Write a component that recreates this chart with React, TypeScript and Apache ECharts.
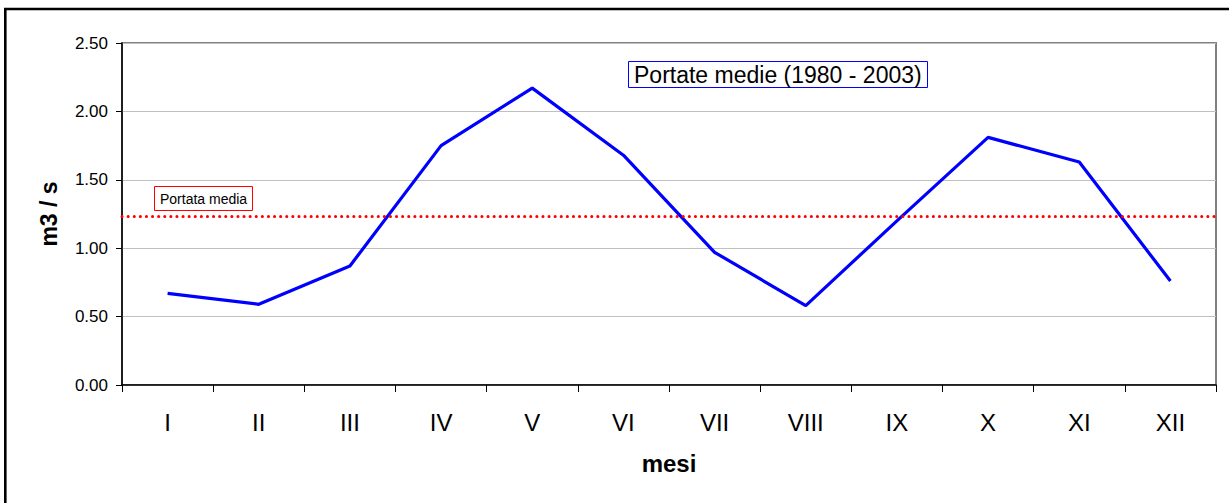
import React, { useEffect, useRef } from "react";
import * as echarts from "echarts";

const months = ["I", "II", "III", "IV", "V", "VI", "VII", "VIII", "IX", "X", "XI", "XII"];
const portate = [0.67, 0.59, 0.87, 1.75, 2.17, 1.68, 0.97, 0.58, 1.2, 1.81, 1.63, 0.76];
const portataMedia = 1.23;
const seriesName = "Portate medie (1980 - 2003)";
const mediaLabel = "Portata media";

const FONT = "'Liberation Sans', Arial, sans-serif";

export default function App() {
  const ref = useRef<HTMLDivElement>(null);
  useEffect(() => {
    if (!ref.current) return;
    const chart = echarts.init(ref.current, null, { renderer: "svg" });
    chart.setOption({
      animation: false,
      backgroundColor: "#fff",
      textStyle: { fontFamily: FONT },
      title: [
        {
          text: seriesName,
          left: 628,
          top: 61,
          padding: [2, 6, 2, 6],
          borderColor: "#0000FF",
          borderWidth: 1,
          textStyle: { fontFamily: FONT, fontSize: 23, fontWeight: "normal", color: "#000", lineHeight: 23 },
        },
        {
          text: mediaLabel,
          left: 154,
          top: 186,
          padding: [5, 6, 5, 6],
          borderColor: "#FF0000",
          borderWidth: 1,
          textStyle: { fontFamily: FONT, fontSize: 14, fontWeight: "normal", color: "#000", lineHeight: 15 },
        },
      ],
      graphic: [
        {
          type: "rect",
          silent: true,
          shape: { x: 5.3, y: 9, width: 1400, height: 700 },
          style: { fill: "none", stroke: "#000", lineWidth: 2.6 },
          z: 100,
        },
      ],
      grid: {
        left: 122,
        top: 43,
        right: 13,
        bottom: 118,
        show: true,
        borderColor: "#808080",
        borderWidth: 2,
        backgroundColor: "#fff",
      },
      xAxis: {
        type: "category",
        data: months,
        boundaryGap: true,
        name: "mesi",
        nameLocation: "middle",
        nameGap: 66,
        nameTextStyle: { fontFamily: FONT, fontSize: 24, fontWeight: "bold", color: "#000" },
        axisLine: { show: true, lineStyle: { color: "#000", width: 1.5 } },
        axisTick: { show: true, inside: false, length: 7, alignWithLabel: false, lineStyle: { color: "#000", width: 1 } },
        axisLabel: { fontFamily: FONT, fontSize: 24, color: "#000", margin: 25, interval: 0 },
        splitLine: { show: false },
      },
      yAxis: {
        type: "value",
        min: 0,
        max: 2.5,
        interval: 0.5,
        name: "m3 / s",
        nameLocation: "middle",
        nameRotate: 90,
        nameGap: 62,
        nameTextStyle: { fontFamily: FONT, fontSize: 23, fontWeight: "bold", color: "#000" },
        axisLine: { show: true, lineStyle: { color: "#000", width: 1.5 } },
        axisTick: { show: true, inside: false, length: 6, lineStyle: { color: "#000", width: 1 } },
        axisLabel: {
          fontFamily: FONT,
          fontSize: 17,
          color: "#000",
          margin: 14,
          formatter: (v: number) => v.toFixed(2),
        },
        splitLine: { show: true, lineStyle: { color: "#C0C0C0", width: 1 } },
      },
      series: [
        {
          name: seriesName,
          type: "line",
          data: portate,
          symbol: "none",
          lineStyle: { color: "#0000FF", width: 3.2 },
          markLine: {
            silent: true,
            symbol: ["none", "none"],
            label: { show: false },
            lineStyle: { color: "#FF0000", width: 3, type: [0.1, 6], cap: "round" },
            data: [{ yAxis: portataMedia }],
          },
        },
      ],
    });
    return () => chart.dispose();
  }, []);
  return (
    <div
      ref={ref}
      style={{ position: "absolute", left: 0, top: 0, width: 1229, height: 503 }}
    />
  );
}
